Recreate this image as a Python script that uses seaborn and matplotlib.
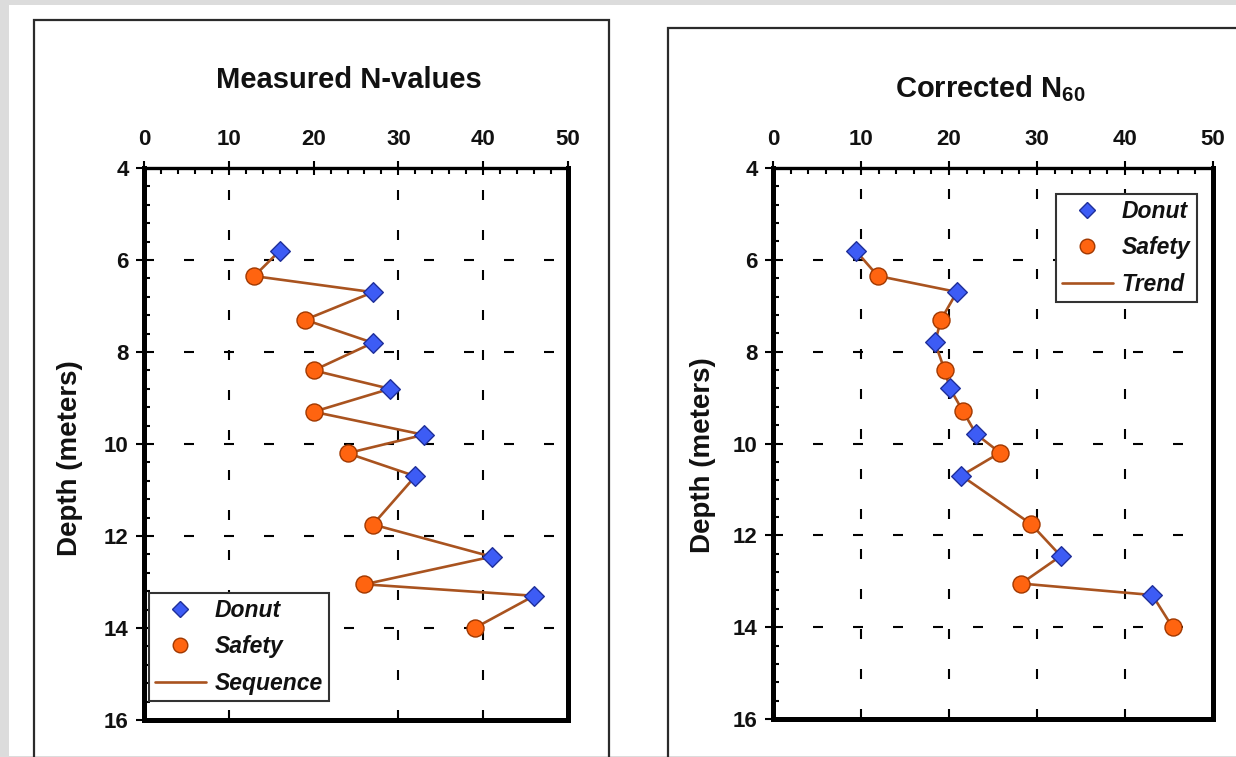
import numpy as np
import pandas as pd
import matplotlib
matplotlib.use('Agg')
import matplotlib.pyplot as plt
import seaborn as sns
from matplotlib.lines import Line2D
from matplotlib.patches import Rectangle
from matplotlib.ticker import MultipleLocator

# ---------------- data ----------------
depth_donut = [5.8, 6.7, 7.8, 8.8, 9.8, 10.7, 12.45, 13.3]
depth_safety = [6.35, 7.3, 8.4, 9.3, 10.2, 11.75, 13.05, 14.0]
measured_donut = [16, 27, 27, 29, 33, 32, 41, 46]
measured_safety = [13, 19, 20, 20, 24, 27, 26, 39]
corrected_donut = [9.4, 20.9, 18.4, 20.1, 23.1, 21.4, 32.7, 43.1]
corrected_safety = [11.9, 19.1, 19.5, 21.6, 25.8, 29.3, 28.2, 45.4]
hammer_types = ['Donut', 'Safety']
x_ticks = [0, 10, 20, 30, 40, 50]
y_ticks = [4, 6, 8, 10, 12, 14, 16]
titles = ['Measured N-values', 'Corrected N$_{60}$']
line_labels = ['Sequence', 'Trend']
y_label = 'Depth (meters)'

# ---------------- style ----------------
sns.set_theme(style='white')
plt.rcParams['font.family'] = ['Liberation Sans', 'DejaVu Sans']
plt.rcParams['font.weight'] = 'bold'
plt.rcParams['mathtext.fontset'] = 'custom'
plt.rcParams['mathtext.rm'] = 'Liberation Sans:bold'
plt.rcParams['mathtext.it'] = 'Liberation Sans:bold'
plt.rcParams['mathtext.bf'] = 'Liberation Sans:bold'
plt.rcParams['mathtext.default'] = 'rm'
plt.rcParams['lines.scale_dashes'] = False

donut_face, donut_edge = '#3d5cf5', '#1f2f9a'
safety_face, safety_edge = '#ff6410', '#a03800'
line_color = '#a9531f'
text_color = '#111111'

W, H = 1236, 757
fig = plt.figure(figsize=(W / 100, H / 100), dpi=100)
fig.patch.set_facecolor('#dcdcdc')


def fx(px):
    return px / W


def fy(py):
    return 1 - py / H


def frect(x0, y0, x1, y1, **kw):
    fig.patches.append(Rectangle((fx(x0), fy(y1)), fx(x1) - fx(x0), fy(y0) - fy(y1),
                                 transform=fig.transFigure, figure=fig, **kw))


frect(9, 5, W + 5, 756, facecolor='white', edgecolor='none', zorder=-3)
frect(34, 20, 609, 790, facecolor='none', edgecolor='#2b2b2b', lw=1.6, zorder=-2)
frect(668, 28, W + 30, 790, facecolor='none', edgecolor='#2b2b2b', lw=1.6, zorder=-2)

panels = [
    dict(rect=(144, 168, 568, 720), nd=measured_donut, ns=measured_safety,
         title=titles[0], title_xy=(349, 80), ylab_xy=(70, 458),
         leg_xy=(149, 593), hide=[20], lab=line_labels[0]),
    dict(rect=(773, 168, 1213, 719), nd=corrected_donut, ns=corrected_safety,
         title=titles[1], title_xy=(990, 89), ylab_xy=(703, 455),
         leg_xy=(1056, 194), hide=[], lab=line_labels[1]),
]

for p in panels:
    x0, y0, x1, y1 = p['rect']
    ax = fig.add_axes([fx(x0), fy(y1), fx(x1) - fx(x0), fy(y0) - fy(y1)])
    ax.set_facecolor('white')
    df = pd.DataFrame({
        'N': p['nd'] + p['ns'],
        'depth': depth_donut + depth_safety,
        'type': [hammer_types[0]] * len(p['nd']) + [hammer_types[1]] * len(p['ns']),
    }).sort_values('depth')

    sns.lineplot(data=df, x='N', y='depth', sort=False, estimator=None,
                 color=line_color, lw=1.9, ax=ax, zorder=3)
    specs = [(hammer_types[0], 'D', 100, donut_face, donut_edge),
             (hammer_types[1], 'o', 150, safety_face, safety_edge)]
    for t, m, s, fc, ec in specs:
        sns.scatterplot(data=df[df['type'] == t], x='N', y='depth', marker=m, s=s,
                        color=fc, edgecolor=ec, linewidth=1.0, ax=ax, zorder=4,
                        legend=False)

    ax.set_xlim(0, 50)
    ax.set_ylim(16, 4)
    ax.set_xlabel('')
    ax.set_ylabel('')
    ax.xaxis.tick_top()
    ax.set_xticks(x_ticks)
    ax.set_yticks(y_ticks)
    ax.xaxis.set_minor_locator(MultipleLocator(2))
    ax.yaxis.set_minor_locator(MultipleLocator(0.4))
    ax.tick_params(axis='x', which='major', direction='inout', length=10, width=1.5,
                   color='black', pad=8, labelsize=16, top=True, bottom=False,
                   labeltop=True, labelbottom=False, labelcolor=text_color)
    ax.tick_params(axis='x', which='minor', direction='in', length=4, width=1.5,
                   color='black', top=True, bottom=False)
    ax.tick_params(axis='y', which='major', direction='out', length=6, width=1.5,
                   color='black', pad=5, labelsize=16, left=True, right=False,
                   labelcolor=text_color)
    ax.tick_params(axis='y', which='minor', direction='in', length=4, width=1.5,
                   color='black', left=True, right=False)
    for lbl in ax.get_xticklabels() + ax.get_yticklabels():
        lbl.set_fontweight('bold')

    for name, sp in ax.spines.items():
        sp.set_color('black')
        sp.set_linewidth(2.4 if name == 'top' else 3.6)
        sp.set_visible(True)

    ax.grid(True, which='major', color='black', lw=1.5, linestyle=(0, (7.2, 21.6)))
    ax.grid(False, which='minor')
    for loc, tk in zip(ax.xaxis.get_majorticklocs(), ax.xaxis.get_major_ticks()):
        if loc in p['hide']:
            tk.gridline.set_visible(False)

    handles = [
        Line2D([], [], ls='none', marker='D', ms=8, mfc=donut_face, mec=donut_edge, mew=1),
        Line2D([], [], ls='none', marker='o', ms=10.5, mfc=safety_face, mec=safety_edge, mew=1),
        Line2D([], [], color=line_color, lw=1.9),
    ]
    leg = ax.legend(handles, hammer_types + [p['lab']], loc='upper left',
                    bbox_to_anchor=(fx(p['leg_xy'][0]), fy(p['leg_xy'][1])),
                    bbox_transform=fig.transFigure, borderaxespad=0,
                    prop=dict(weight='bold', style='italic', size=16.5),
                    frameon=True, fancybox=False, framealpha=1, edgecolor='#333',
                    handlelength=2.2, handletextpad=0.4, labelspacing=0.58,
                    borderpad=0.27)
    leg.get_frame().set_linewidth(1.5)
    leg.set_zorder(10)
    for txt in leg.get_texts():
        txt.set_color(text_color)

    fig.text(fx(p['title_xy'][0]), fy(p['title_xy'][1]), p['title'], ha='center',
             va='center', fontsize=21, fontweight='bold', color=text_color)
    fig.text(fx(p['ylab_xy'][0]), fy(p['ylab_xy'][1]), y_label, rotation=90,
             ha='center', va='center', fontsize=20, fontweight='bold', color=text_color)

fig.savefig('out.png', dpi=100, facecolor=fig.get_facecolor())
